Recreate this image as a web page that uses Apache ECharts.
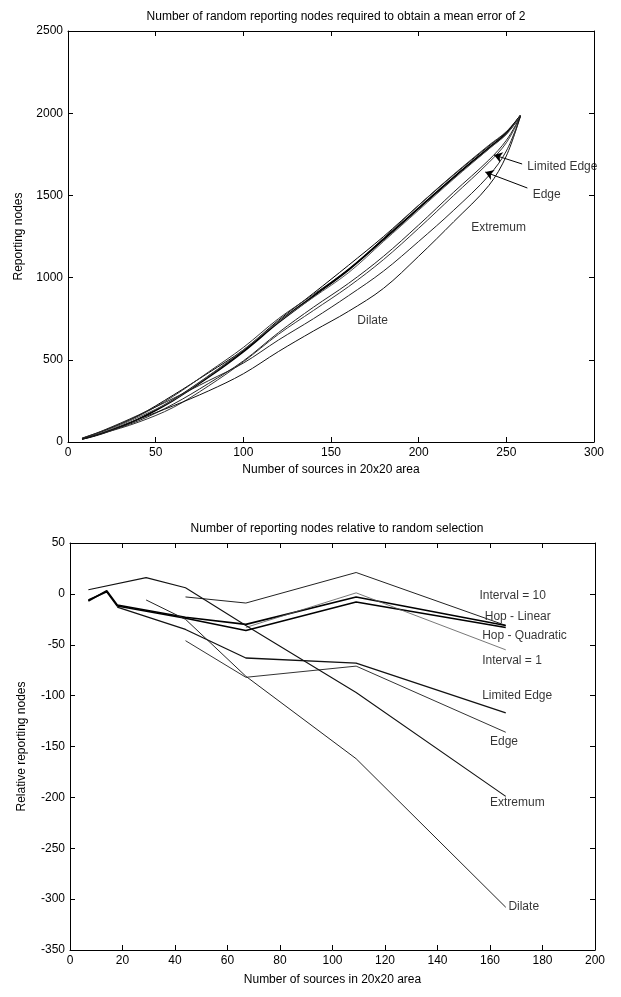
<!DOCTYPE html>
<html lang="en">
<head>
    <meta charset="UTF-8">
    <title>Reporting nodes</title>
    <style>
        html, body { margin: 0; padding: 0; background: #fff; }
        #main { width: 621px; height: 997px; }
    </style>
</head>
<body>
<div id="main"></div>
<script src="https://cdn.jsdelivr.net/npm/echarts@6/dist/echarts.min.js"></script>
<script>
    // ---- top chart: reporting nodes needed for a mean error of 2 ----
    var topX = [8, 20, 40, 60, 80, 100, 120, 140, 160, 180, 200, 220, 240, 250, 258];
    var topRandom      = [22, 65, 160, 285, 420, 560, 740, 905, 1075, 1250, 1440, 1625, 1800, 1885, 1985];
    var topInterval10  = [24, 68, 157, 278, 425, 575, 750, 898, 1050, 1240, 1440, 1628, 1805, 1888, 1988];
    var topHopLinear   = [18, 55, 140, 257, 400, 553, 730, 890, 1050, 1235, 1425, 1612, 1790, 1878, 1985];
    var topHopQuad     = [17, 53, 138, 252, 392, 548, 725, 885, 1045, 1230, 1420, 1608, 1786, 1875, 1985];
    var topInterval1   = [20, 60, 150, 255, 400, 560, 730, 880, 1030, 1220, 1410, 1600, 1782, 1872, 1985];
    var topLimitedEdge = [20, 55, 128, 230, 355, 493, 665, 820, 965, 1130, 1320, 1520, 1715, 1835, 1980];
    var topEdge        = [19, 53, 120, 210, 340, 488, 655, 800, 945, 1110, 1300, 1500, 1700, 1820, 1980];
    var topExtremum    = [22, 70, 163, 265, 372, 480, 620, 750, 890, 1040, 1220, 1410, 1620, 1770, 1980];
    var topDilate      = [18, 55, 138, 220, 310, 415, 550, 675, 795, 935, 1130, 1340, 1560, 1740, 1980];

    var topNotes = ['Limited Edge', 'Edge', 'Extremum', 'Dilate'];
    var topNotePos = [[262, 1673], [265, 1502], [230, 1302], [165, 738]];
    // arrows from the label to the curve
    var topArrows = [[[259, 1691], [243, 1746]], [[262, 1545], [238, 1642]]];

    // ---- bottom chart: relative to random selection ----
    var bottomX = [7, 14, 18, 29, 44, 67, 109, 166];
    var relInterval10  = [null, null, null, null, -3, -9, 21, -31];
    var relHopLinear   = [-7, 3, -11, null, -23, -30, -3, -31];
    var relHopQuad     = [-6, 2, -12, null, -24, -36, -8, -33];
    var relInterval1   = [null, null, null, null, null, -33, 1, -55];
    var relLimitedEdge = [null, null, -13, null, -35, -63, -68, -117];
    var relEdge        = [null, null, null, null, -46, -82, -71, -136];
    var relExtremum    = [4, null, null, 16, 6, -31, -97, -199];
    var relDilate      = [null, null, null, -6, -25, -81, -162, -308];

    var bottomNotes = ['Interval = 10', 'Hop - Linear', 'Hop - Quadratic', 'Interval = 1', 'Limited Edge', 'Edge', 'Extremum', 'Dilate'];
    var bottomNotePos = [[156, -2], [158, -22], [157, -41], [157, -66], [157, -100], [160, -145], [160, -205], [167, -307]];

    var FONT = 'Liberation Sans';

    function pairs(xs, ys) {
        var out = [];
        for (var i = 0; i < xs.length; i++) {
            out.push([xs[i], ys[i]]);
        }
        return out;
    }

    function curve(name, ys, grid, width, color) {
        return {
            name: name,
            type: 'line',
            xAxisIndex: grid * 2,
            yAxisIndex: grid * 2,
            data: pairs(grid === 0 ? topX : bottomX, ys),
            smooth: grid === 0 ? 0.35 : false,
            connectNulls: true,
            showSymbol: false,
            symbol: 'none',
            lineStyle: {color: color || '#111', width: width || 1},
            silent: true
        };
    }

    function notes(texts, pos, grid) {
        return {
            type: 'scatter',
            xAxisIndex: grid * 2,
            yAxisIndex: grid * 2,
            symbolSize: 0,
            silent: true,
            data: pos.map(function (p, i) {
                return {value: p, name: texts[i]};
            }),
            label: {
                show: true,
                position: 'right',
                distance: 0,
                formatter: '{b}',
                color: '#000',
                fontFamily: FONT,
                fontSize: 12
            }
        };
    }

    // plain numbers on the ticks (no thousands separator)
    function plain(v) {
        return String(v);
    }

    // shared axis pieces (matlab style box, ticks pointing in)
    function xAx(grid, min, max, step, pos, labels, name, gap) {
        return {
            type: 'value', gridIndex: grid, min: min, max: max, interval: step, position: pos,
            axisLine: {show: true, onZero: false, lineStyle: {color: '#000', width: 1}},
            axisTick: {show: true, inside: true, length: 5, lineStyle: {color: '#000'}},
            axisLabel: {show: labels, color: '#000', fontFamily: FONT, fontSize: 12, margin: 5, formatter: plain},
            splitLine: {show: false},
            name: name || '', nameLocation: 'middle', nameGap: gap || 22,
            nameTextStyle: {color: '#000', fontFamily: FONT, fontSize: 12}
        };
    }

    function yAx(grid, min, max, step, pos, labels, name, gap) {
        return {
            type: 'value', gridIndex: grid, min: min, max: max, interval: step, position: pos,
            axisLine: {show: true, onZero: false, lineStyle: {color: '#000', width: 1}},
            axisTick: {show: true, inside: true, length: 5, lineStyle: {color: '#000'}},
            axisLabel: {show: labels, color: '#000', fontFamily: FONT, fontSize: 12, margin: 5, formatter: plain},
            splitLine: {show: false},
            name: name || '', nameLocation: 'middle', nameGap: gap || 40,
            nameTextStyle: {color: '#000', fontFamily: FONT, fontSize: 12}
        };
    }

    var myChart = echarts.init(document.getElementById('main'), null, {renderer: 'canvas'});

    var limitedSeries = curve('Limited Edge', topLimitedEdge, 0, 1, '#222');
    limitedSeries.markLine = {
        silent: true,
        symbol: ['none', 'arrow'],
        symbolSize: 8,
        label: {show: false},
        lineStyle: {color: '#000', width: 1, type: 'solid'},
        data: topArrows.map(function (a) {
            return [{coord: a[0]}, {coord: a[1]}];
        })
    };

    var option = {
        animation: false,
        backgroundColor: '#fff',
        title: [{
            text: 'Number of random reporting nodes required to obtain a mean error of 2',
            left: 331, top: 6, textAlign: 'center',
            textStyle: {color: '#000', fontFamily: FONT, fontSize: 12, fontWeight: 'normal'}
        }, {
            text: 'Number of reporting nodes relative to random selection',
            left: 332, top: 518, textAlign: 'center',
            textStyle: {color: '#000', fontFamily: FONT, fontSize: 12, fontWeight: 'normal'}
        }],
        grid: [
            {left: 68, top: 31, width: 526, height: 411},
            {left: 70, top: 543, width: 525, height: 407}
        ],
        xAxis: [
            xAx(0, 0, 300, 50, 'bottom', true, 'Number of sources in 20x20 area', 22),
            xAx(0, 0, 300, 50, 'top', false),
            xAx(1, 0, 200, 20, 'bottom', true, 'Number of sources in 20x20 area', 24),
            xAx(1, 0, 200, 20, 'top', false)
        ],
        yAxis: [
            yAx(0, 0, 2500, 500, 'left', true, 'Reporting nodes', 43),
            yAx(0, 0, 2500, 500, 'right', false),
            yAx(1, -350, 50, 50, 'left', true, 'Relative reporting nodes', 42),
            yAx(1, -350, 50, 50, 'right', false)
        ],
        series: [
            curve('Random', topRandom, 0, 1, '#000'),
            curve('Interval = 10', topInterval10, 0, 1, '#333'),
            curve('Hop - Linear', topHopLinear, 0, 1.3, '#000'),
            curve('Hop - Quadratic', topHopQuad, 0, 1.3, '#000'),
            curve('Interval = 1', topInterval1, 0, 1, '#555'),
            limitedSeries,
            curve('Edge', topEdge, 0, 1, '#333'),
            curve('Extremum', topExtremum, 0, 1, '#222'),
            curve('Dilate', topDilate, 0, 1, '#111'),
            notes(topNotes, topNotePos, 0),

            curve('Interval = 10', relInterval10, 1, 1, '#222'),
            curve('Hop - Linear', relHopLinear, 1, 1.6, '#000'),
            curve('Hop - Quadratic', relHopQuad, 1, 1.6, '#000'),
            curve('Interval = 1', relInterval1, 1, 0.8, '#555'),
            curve('Limited Edge', relLimitedEdge, 1, 1.3, '#111'),
            curve('Edge', relEdge, 1, 1, '#333'),
            curve('Extremum', relExtremum, 1, 1.1, '#111'),
            curve('Dilate', relDilate, 1, 1, '#222'),
            notes(bottomNotes, bottomNotePos, 1)
        ]
    };

    myChart.setOption(option);
</script>
</body>
</html>
